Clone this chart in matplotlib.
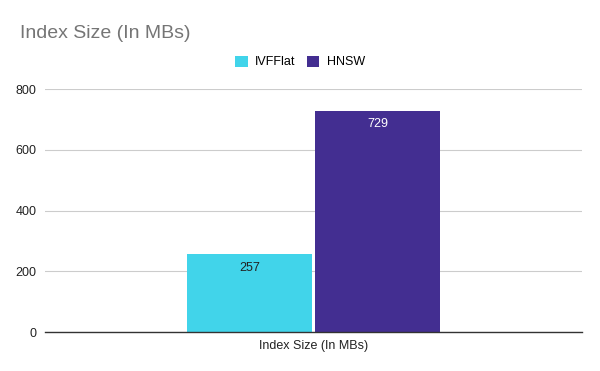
import matplotlib
matplotlib.use("Agg")
import matplotlib.pyplot as plt
from matplotlib.patches import Patch

plt.rcParams['font.family'] = ['Liberation Sans', 'DejaVu Sans']

category = 'Index Size (In MBs)'
series = ['IVFFlat', 'HNSW']
values = [257, 729]
colors = ['#41d4ea', '#432e91']
label_colors = ['#222222', '#ffffff']
yticks = [0, 200, 400, 600, 800]

fig = plt.figure(figsize=(6, 3.71), dpi=100)
ax = fig.add_axes([0.075, 0.105, 0.895, 0.655])

width = 0.232
offsets = [-0.119, 0.119]
for name, v, c, lc, off in zip(series, values, colors, label_colors, offsets):
    ax.bar(off, v, width=width, color=c, zorder=3)
    ax.annotate(str(v), (off, v), xytext=(0, -10), textcoords='offset points',
                ha='center', va='center', fontsize=9, color=lc, zorder=4)

ax.set_xlim(-0.5, 0.5)
ax.set_ylim(0, 800)
ax.set_yticks(yticks)
ax.set_yticklabels([str(t) for t in yticks], fontsize=9, color='#222222')
ax.set_xticks([0])
ax.set_xticklabels([category], fontsize=9, color='#222222')
ax.tick_params(length=0, pad=6)
ax.grid(axis='y', color='#cccccc', linewidth=0.8, zorder=0)
for s in ['top', 'right', 'left']:
    ax.spines[s].set_visible(False)
ax.spines['bottom'].set_color('#333333')
ax.spines['bottom'].set_linewidth(1)
ax.spines['bottom'].set_zorder(5)

fig.text(0.033, 0.91, 'Index Size (In MBs)', fontsize=14, color='#757575', ha='left', va='center')

handles = [Patch(facecolor=c, label=n) for n, c in zip(series, colors)]
fig.legend(handles=handles, loc='center', bbox_to_anchor=(0.5, 0.833), ncol=2, frameon=False,
           fontsize=9, handlelength=1.0, handleheight=1.0, handletextpad=0.6, columnspacing=0.9)

fig.savefig('out.png', dpi=100)
